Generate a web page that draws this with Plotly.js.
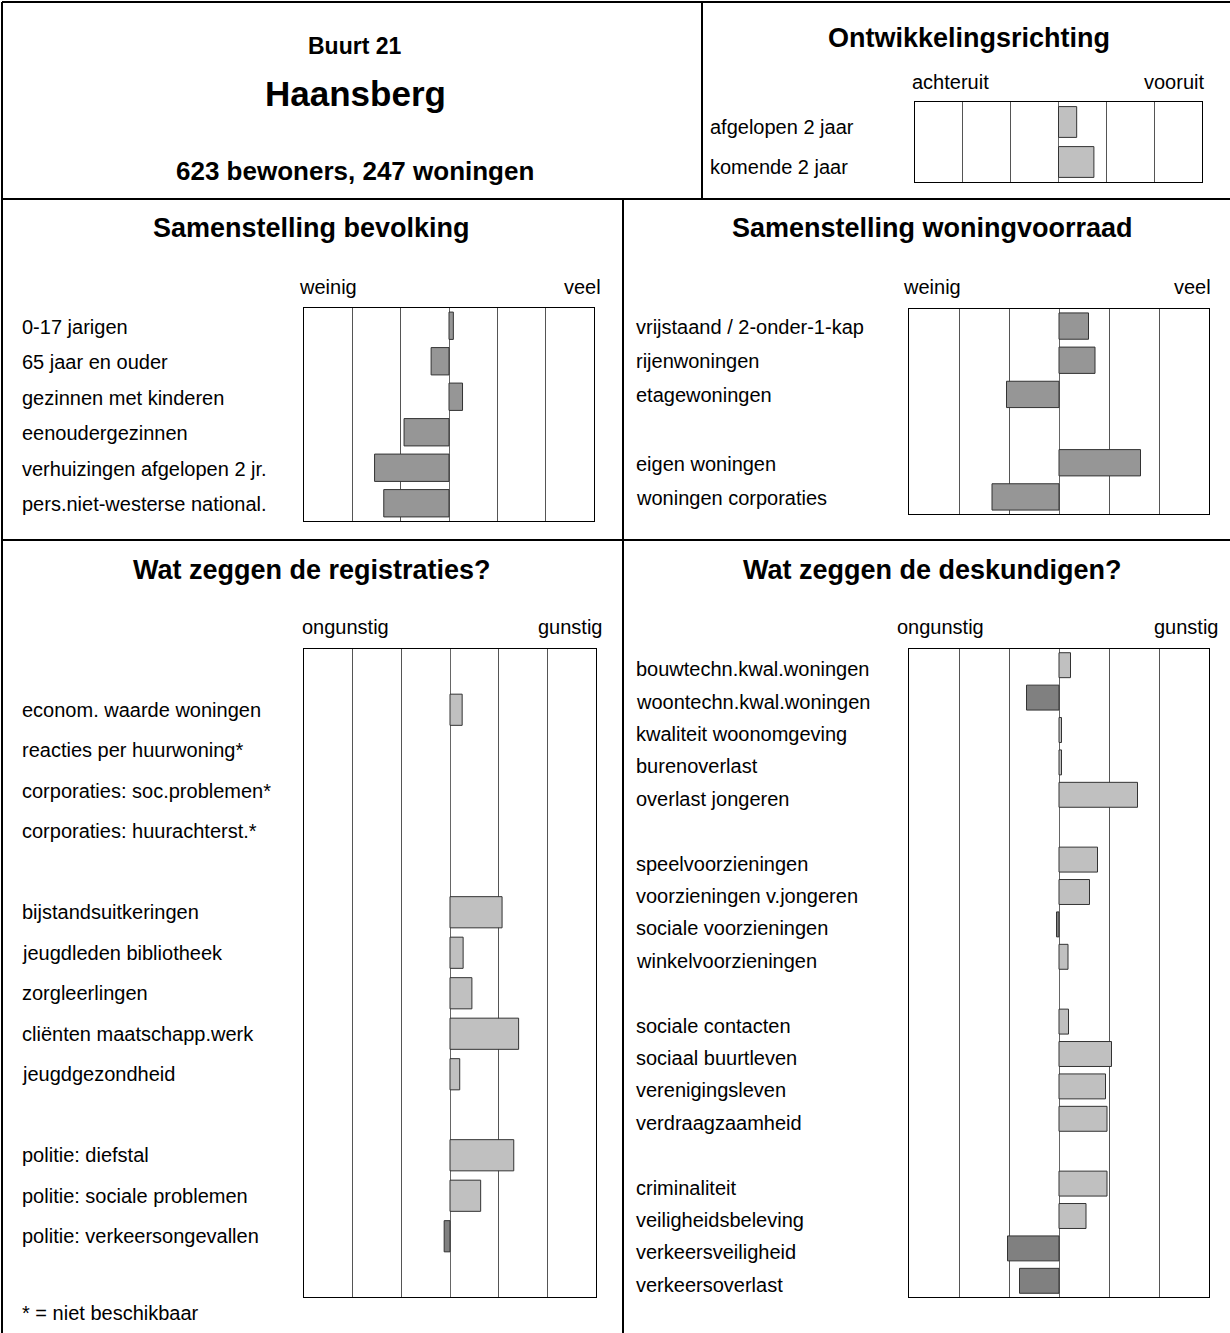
<!DOCTYPE html>
<html>
<head>
<meta charset="utf-8">
<script src="https://cdn.plot.ly/plotly-3.0.1.min.js"></script>
<style>html,body{margin:0;padding:0;background:#fff;}#chart{width:1230px;height:1333px;}</style>
</head>
<body>
<div id="chart"></div>
<script>
// ---- data ----
const ontwLabels = ["afgelopen 2 jaar", "komende 2 jaar"];
const ontwValues = [0.38, 0.74];

const bevLabels = ["0-17 jarigen", "65 jaar en ouder", "gezinnen met kinderen", "eenoudergezinnen", "verhuizingen afgelopen 2 jr.", "pers.niet-westerse national."];
const bevValues = [0.09, -0.37, 0.28, -0.93, -1.54, -1.35];

const wonLabels = ["vrijstaand / 2-onder-1-kap", "rijenwoningen", "etagewoningen", "", "eigen woningen", "woningen corporaties"];
const wonValues = [0.59, 0.72, -1.05, null, 1.63, -1.34];

const regLabels = ["", "econom. waarde woningen", "reacties per huurwoning*", "corporaties: soc.problemen*", "corporaties: huurachterst.*", "",
  "bijstandsuitkeringen", "jeugdleden bibliotheek", "zorgleerlingen", "cliënten maatschapp.werk", "jeugdgezondheid", "",
  "politie: diefstal", "politie: sociale problemen", "politie: verkeersongevallen", ""];
const regValues = [null, 0.25, null, null, null, null, 1.07, 0.27, 0.45, 1.41, 0.2, null, 1.31, 0.63, -0.12, null];

const desLabels = ["bouwtechn.kwal.woningen", "woontechn.kwal.woningen", "kwaliteit woonomgeving", "burenoverlast", "overlast jongeren", "",
  "speelvoorzieningen", "voorzieningen v.jongeren", "sociale voorzieningen", "winkelvoorzieningen", "",
  "sociale contacten", "sociaal buurtleven", "verenigingsleven", "verdraagzaamheid", "",
  "criminaliteit", "veiligheidsbeleving", "verkeersveiligheid", "verkeersoverlast"];
const desValues = [0.23, -0.65, 0.05, 0.05, 1.57, null, 0.77, 0.61, -0.05, 0.18, null, 0.19, 1.05, 0.93, 0.96, null, 0.96, 0.54, -1.03, -0.79];

// ---- helpers ----
const W = 1230, H = 1333;
const px = x => x / W;
const py = y => 1 - y / H;
const FONT = "Liberation Sans, Arial, sans-serif";
const LBL = 20;
const TTL = 27;

const idx = arr => arr.map((_, i) => i);

function barTrace(values, n, colorFn) {
  return {
    type: "bar", orientation: "h",
    x: values, y: idx(values),
    xaxis: "x" + (n === 1 ? "" : n), yaxis: "y" + (n === 1 ? "" : n),
    width: 0.77,
    marker: { color: values.map(colorFn), line: { color: "#333", width: 1 } },
    hoverinfo: "skip", showlegend: false
  };
}

const light = "#c0c0c0", dark = "#808080", mid = "#969696";
const signColor = v => (v !== null && v < 0) ? dark : light;

const data = [
  barTrace(ontwValues, 1, () => light),
  barTrace(bevValues, 2, () => mid),
  barTrace(wonValues, 3, () => mid),
  barTrace(regValues, 4, signColor),
  barTrace(desValues, 5, signColor)
];

function xax(x0, x1, anchor) {
  return {
    domain: [px(x0), px(x1)], range: [-3, 3], anchor: anchor,
    tickmode: "linear", tick0: -3, dtick: 1, showticklabels: false, ticks: "",
    showgrid: true, gridcolor: "#555", gridwidth: 1,
    zeroline: true, zerolinecolor: "#666", zerolinewidth: 1,
    showline: true, mirror: true, linecolor: "#000", linewidth: 1, fixedrange: true
  };
}
function yax(y0, y1, n, anchor) {
  return {
    domain: [py(y1), py(y0)], range: [n - 0.5, -0.5], anchor: anchor,
    showticklabels: false, ticks: "", showgrid: false, zeroline: false,
    showline: true, mirror: true, linecolor: "#000", linewidth: 1, fixedrange: true
  };
}

const annotations = [];
function txt(text, x, y, size, bold, anchor) {
  annotations.push({
    text: bold ? "<b>" + text + "</b>" : text,
    x: px(x), y: py(y), xref: "paper", yref: "paper",
    xanchor: anchor || "center", yanchor: "middle", showarrow: false,
    font: { family: FONT, size: size, color: "#000" }
  });
}
function catLabels(labels, yref, x, shift) {
  labels.forEach((l, i) => {
    if (!l) return;
    annotations.push({
      text: l, x: px(x), y: i, xref: "paper", yref: yref,
      xanchor: "left", yanchor: "middle", showarrow: false, yshift: shift || 0,
      font: { family: FONT, size: LBL, color: "#000" }
    });
  });
}

// header
txt("Buurt 21", 355, 46, 23, true);
txt("Haansberg", 355, 93, 35, true);
txt("623 bewoners, 247 woningen", 355, 171, 26, true);
txt("Ontwikkelingsrichting", 969, 38, TTL, true);
txt("achteruit", 950, 82, LBL, false);
txt("vooruit", 1206, 82, LBL, false, "right");
catLabels(ontwLabels, "y", 708, -5);

// row 2
txt("Samenstelling bevolking", 311, 228, TTL, true);
txt("Samenstelling woningvoorraad", 932, 228, TTL, true);
txt("weinig", 328, 287, LBL, false);
txt("veel", 582, 287, LBL, false);
txt("weinig", 932, 287, LBL, false);
txt("veel", 1192, 287, LBL, false);
catLabels(bevLabels, "y2", 20, -1);
catLabels(wonLabels, "y3", 634, -1);

// row 3
txt("Wat zeggen de registraties?", 312, 570, TTL, true);
txt("Wat zeggen de deskundigen?", 932, 570, TTL, true);
txt("ongunstig", 345, 627, LBL, false);
txt("gunstig", 570, 627, LBL, false);
txt("ongunstig", 940, 627, LBL, false);
txt("gunstig", 1186, 627, LBL, false);
catLabels(regLabels, "y4", 20, 0);
catLabels(desLabels, "y5", 634, -4);
txt("* = niet beschikbaar", 20, 1313, LBL, false, "left");

// frame lines
const shapes = [];
function line(x0, y0, x1, y1) {
  shapes.push({ type: "line", xref: "paper", yref: "paper",
    x0: px(x0), y0: py(y0), x1: px(x1), y1: py(y1),
    line: { color: "#000", width: 2 } });
}
line(2, 2, 1230, 2);
line(2, 2, 2, 1333);
line(2, 199, 1230, 199);
line(702, 2, 702, 199);
line(2, 540, 1230, 540);
line(623, 199, 623, 1333);

const layout = {
  width: W, height: H,
  margin: { l: 0, r: 0, t: 0, b: 0 },
  paper_bgcolor: "#fff", plot_bgcolor: "#fff",
  bargap: 0, showlegend: false,
  xaxis: xax(915, 1202, "y"),
  yaxis: yax(102, 182, ontwValues.length, "x"),
  xaxis2: xax(304, 594, "y2"),
  yaxis2: yax(308, 521, bevValues.length, "x2"),
  xaxis3: xax(909, 1209, "y3"),
  yaxis3: yax(309, 514, wonValues.length, "x3"),
  xaxis4: xax(304, 596, "y4"),
  yaxis4: yax(649, 1297, regValues.length, "x4"),
  xaxis5: xax(909, 1209, "y5"),
  yaxis5: yax(649, 1297, desValues.length, "x5"),
  annotations: annotations,
  shapes: shapes
};

Plotly.newPlot("chart", data, layout, { displayModeBar: false, staticPlot: true });
</script>
</body>
</html>
